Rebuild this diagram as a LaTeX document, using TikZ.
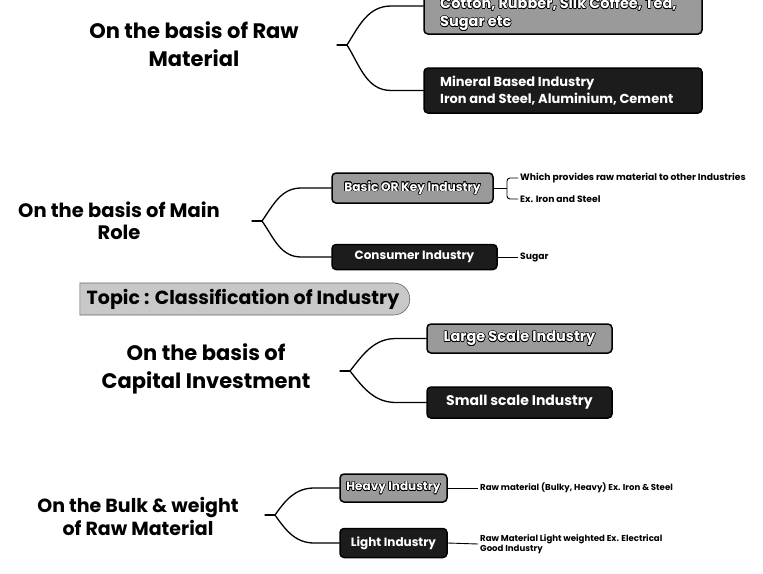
\documentclass[tikz,border=0pt]{standalone}
\usepackage{fontspec}
\setmainfont{Poppins}
\usepackage[copies]{contour}
\contourlength{0.5pt}
\usetikzlibrary{calc,shapes.misc}
\definecolor{boxlight}{HTML}{9A9A9A}
\definecolor{boxdark}{HTML}{1C1C1C}
\definecolor{pillgray}{HTML}{C8C8C8}
% white lettering with a thin dark rim, used on the light boxes
\newcommand{\rimtext}[1]{\contour{black}{\textcolor{white}{#1}}}
\begin{document}
\begin{tikzpicture}[x=1pt,y=-1pt,
  heading/.style={align=center,font=\bfseries\fontsize{21}{27.5}\selectfont},
  lightbox/.style={draw=black,line width=1.5pt,rounded corners=4pt,fill=boxlight,
    inner sep=0pt,text=white},
  darkbox/.style={draw=black,line width=1.5pt,rounded corners=4pt,fill=boxdark,
    inner sep=0pt,text=white},
  branch/.style={line width=1.3pt,line cap=round},
  thinline/.style={line width=0.9pt},
  note/.style={inner sep=0pt,anchor=west,align=left,font=\bfseries\fontsize{8.6}{9.5}\selectfont},
]
\useasboundingbox (0,0) rectangle (763,573);
\fill[white] (0,0) rectangle (763,573);

%% ---------- raw material ----------
\node[heading] (t1) at (194,44) {On the basis of Raw\\Material};
\coordinate (j1) at (347,45);
\node[lightbox,minimum width=278pt,minimum height=56pt] (b1) at (563,6) {};
\node[inner sep=0pt,anchor=west,align=left,font=\bfseries\fontsize{14.5}{18}\selectfont]
  (b1t) at (440,14) {\rimtext{Cotton, Rubber, Silk Coffee, Tea,}\\\rimtext{Sugar etc}};
\node[darkbox,minimum width=278pt,minimum height=45pt] (b2) at (563,90.5) {};
\node[inner sep=0pt,anchor=west,align=left,text=white,font=\bfseries\fontsize{13}{17}\selectfont]
  (b2t) at (440,91) {Mineral Based Industry\\Iron and Steel, Aluminium, Cement};
\draw[branch] (j1) -- ++(-10,0);
\draw[branch] (j1) to[out=58,in=180] ($(b1.west)+(-32,0)$) -- (b1.west);
\draw[branch] (j1) to[out=-58,in=180] ($(b2.west)+(-32,0)$) -- (b2.west);

%% ---------- main role ----------
\node[heading,font=\bfseries\fontsize{19.5}{22}\selectfont] (t2) at (119,221) {On the basis of Main\\Role};
\coordinate (j2) at (262,221);
\node[lightbox,minimum width=161pt,minimum height=30pt,
  font=\bfseries\fontsize{12.2}{14}\selectfont] (c1) at (412.5,188) {\rimtext{Basic OR Key Industry}};
\node[darkbox,minimum width=165pt,minimum height=25pt,
  font=\bfseries\fontsize{12}{14}\selectfont] (c2) at (414.5,257) {Consumer Industry};
\draw[branch] (j2) -- ++(-10,0);
\draw[branch] (j2) to[out=55,in=180] ($(c1.west)+(-30,0)$) -- (c1.west);
\draw[branch] (j2) to[out=-55,in=180] ($(c2.west)+(-30,0)$) -- (c2.west);
\node[note,font=\bfseries\fontsize{9.2}{10}\selectfont] (w1) at (520,178) {Which provides raw material to other Industries};
\node[note,font=\bfseries\fontsize{9.2}{10}\selectfont] (w2) at (520,199) {Ex. Iron and Steel};
\coordinate (bk) at (507,188);
\draw[thinline] (c1.east) -- (bk);
\draw[thinline,rounded corners=3pt] ($(w1.west)+(-2,0)$) -| (bk) |- ($(w2.west)+(-2,0)$);
\node[note,font=\bfseries\fontsize{9.2}{10}\selectfont] (s1) at (520,257) {Sugar};
\draw[thinline] (c2.east) -- ($(s1.west)+(-2,0)$);

%% ---------- topic banner ----------
\node[rounded rectangle,rounded rectangle west arc=none,fill=pillgray,draw=black!60,
  line width=0.6pt,minimum width=330pt,minimum height=32pt,inner sep=0pt,
  font=\bfseries\fontsize{19}{22}\selectfont] (topic) at (243,299)
  {Topic : Classification of Industry};

%% ---------- capital investment ----------
\node[heading] (t3) at (206,369) {On the basis of\\Capital Investment};
\coordinate (j3) at (350,371);
\node[lightbox,minimum width=185pt,minimum height=29pt,
  font=\bfseries\fontsize{14.5}{16}\selectfont] (d1) at (519.5,338.5) {\rimtext{Large Scale Industry}};
\node[darkbox,minimum width=185pt,minimum height=31pt,
  font=\bfseries\fontsize{14}{16}\selectfont] (d2) at (519.5,402.5) {Small scale Industry};
\draw[branch] (j3) -- ++(-10,0);
\draw[branch] (j3) to[out=52,in=180] ($(d1.west)+(-30,0)$) -- (d1.west);
\draw[branch] (j3) to[out=-52,in=180] ($(d2.west)+(-30,0)$) -- (d2.west);

%% ---------- bulk and weight ----------
\node[heading,font=\bfseries\fontsize{19}{23}\selectfont] (t4) at (138,516) {On the Bulk \& weight\\of Raw Material};
\coordinate (j4) at (275,515);
\node[lightbox,minimum width=107pt,minimum height=28pt,
  font=\bfseries\fontsize{12}{14}\selectfont] (e1) at (393.5,488) {\rimtext{Heavy Industry}};
\node[darkbox,minimum width=107pt,minimum height=29pt,
  font=\bfseries\fontsize{12}{14}\selectfont] (e2) at (393.5,543) {Light Industry};
\draw[branch] (j4) -- ++(-10,0);
\draw[branch] (j4) to[out=55,in=180] ($(e1.west)+(-25,0)$) -- (e1.west);
\draw[branch] (j4) to[out=-55,in=180] ($(e2.west)+(-25,0)$) -- (e2.west);
\node[note] (h1) at (480,488) {Raw material (Bulky, Heavy) Ex. Iron \& Steel};
\node[note] (l1) at (480,544) {Raw Material Light weighted Ex. Electrical\\Good Industry};
\draw[thinline] (e1.east) -- ($(h1.west)+(-2,0)$);
\draw[thinline] (e2.east) -- ($(l1.west)+(-2,0)$);
\end{tikzpicture}
\end{document}
